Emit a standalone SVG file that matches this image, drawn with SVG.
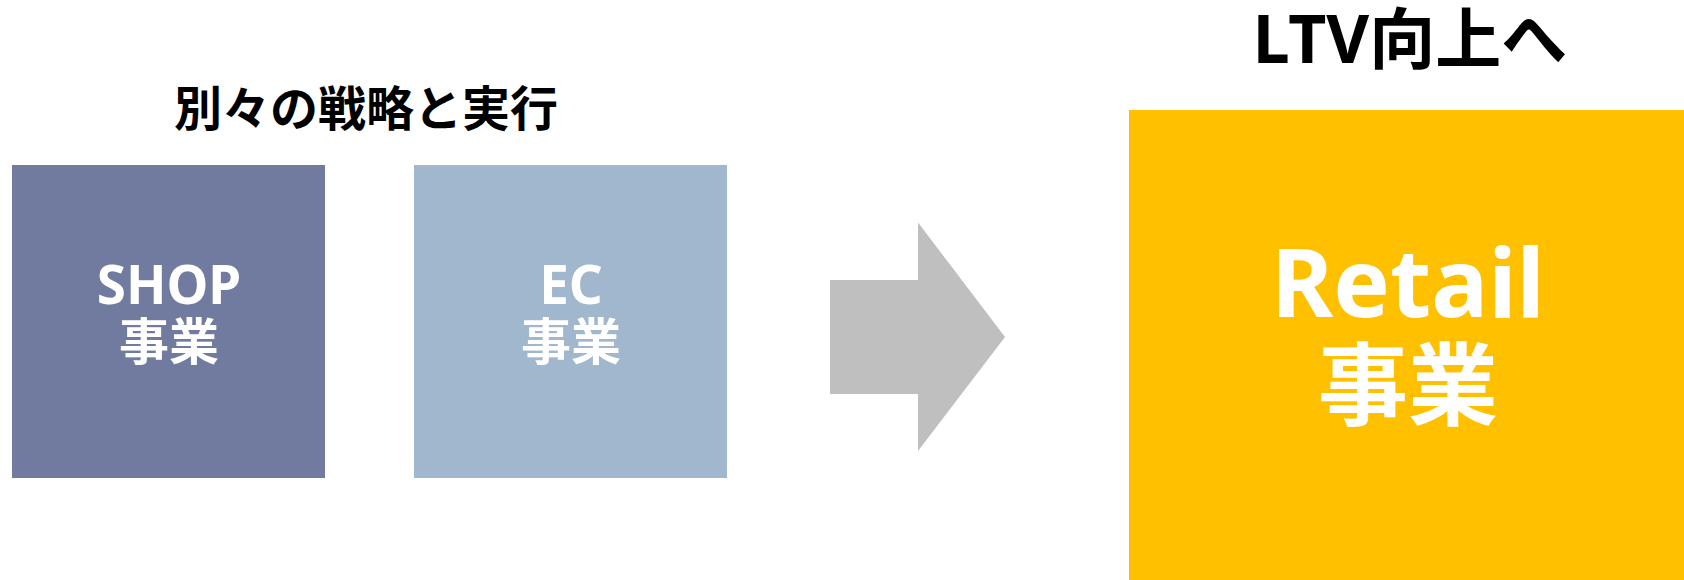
<svg xmlns="http://www.w3.org/2000/svg" width="1684" height="580" viewBox="0 0 1684 580">
<style>
.t{font-family:"Noto Sans","Noto Sans CJK JP",sans-serif;font-weight:bold;text-anchor:middle}
.w{fill:#ffffff}
.k{fill:#000000}
</style>
<rect width="1684" height="580" fill="#ffffff"/>
<g id="title-left"><text class="t k" x="366" y="126" font-size="48">別々の戦略と実行</text></g>
<g id="title-right"><text class="t k" x="1410" y="63" font-size="66">LTV向上へ</text></g>
<g id="shop">
<rect x="12" y="165" width="313" height="313" fill="#717B9F"/>
<text class="t w" x="169" y="304" font-size="53">SHOP</text>
<text class="t w" x="169" y="360" font-size="50">事業</text>
</g>
<g id="ec">
<rect x="414" y="165" width="313" height="313" fill="#A1B7CD"/>
<text class="t w" x="571" y="304" font-size="53">EC</text>
<text class="t w" x="571" y="360" font-size="50">事業</text>
</g>
<g id="connectors">
<polygon points="830,280 918,280 918,222.5 1005,337 918,451 918,394 830,394" fill="#BFBFBF"/>
</g>
<g id="retail">
<rect x="1129" y="110" width="555" height="470" fill="#FFC000"/>
<text class="t w" x="1408" y="317" font-size="95">Retail</text>
<text class="t w" x="1408" y="418" font-size="90">事業</text>
</g>
</svg>
